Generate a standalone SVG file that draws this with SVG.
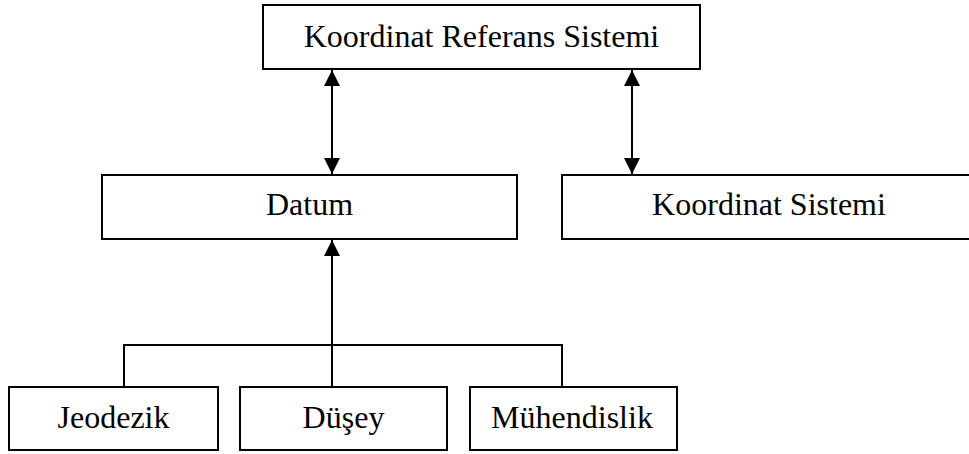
<svg xmlns="http://www.w3.org/2000/svg" width="969" height="454" viewBox="0 0 969 454">
<defs>
<style>
.box{fill:#fff;stroke:#000;stroke-width:2}
.lbl{font-family:"Liberation Serif","Times New Roman",serif;font-size:32px;fill:#000;text-anchor:middle}
.ln{fill:none;stroke:#000;stroke-width:2}
</style>
<marker id="ah" viewBox="0 0 16 16" refX="16" refY="8" markerWidth="16" markerHeight="16" markerUnits="userSpaceOnUse" orient="auto-start-reverse">
<path d="M0,0 L16,8 L0,16 Z" fill="#000"/>
</marker>
</defs>
<g id="connectors">
<line class="ln" x1="332" y1="70" x2="332" y2="174" marker-start="url(#ah)" marker-end="url(#ah)"/>
<line class="ln" x1="632" y1="70" x2="632" y2="174" marker-start="url(#ah)" marker-end="url(#ah)"/>
<line class="ln" x1="332" y1="387" x2="332" y2="240" marker-end="url(#ah)"/>
<polyline class="ln" points="124,387 124,345 562,345 562,387"/>
</g>
<g id="n-krs">
<rect class="box" x="263" y="5" width="437" height="64"/>
<text class="lbl" x="481.5" y="47">Koordinat Referans Sistemi</text>
</g>
<g id="n-datum">
<rect class="box" x="102" y="175" width="415" height="64"/>
<text class="lbl" x="309.5" y="215">Datum</text>
</g>
<g id="n-ks">
<rect class="box" x="562" y="175" width="414" height="64"/>
<text class="lbl" x="769" y="215">Koordinat Sistemi</text>
</g>
<g id="n-jeodezik">
<rect class="box" x="9" y="387" width="209" height="63"/>
<text class="lbl" x="113.5" y="428">Jeodezik</text>
</g>
<g id="n-dusey">
<rect class="box" x="240" y="387" width="207" height="63"/>
<text class="lbl" x="343.5" y="428">Düşey</text>
</g>
<g id="n-muhendislik">
<rect class="box" x="470" y="387" width="207" height="63"/>
<text class="lbl" x="572" y="428">Mühendislik</text>
</g>
</svg>
